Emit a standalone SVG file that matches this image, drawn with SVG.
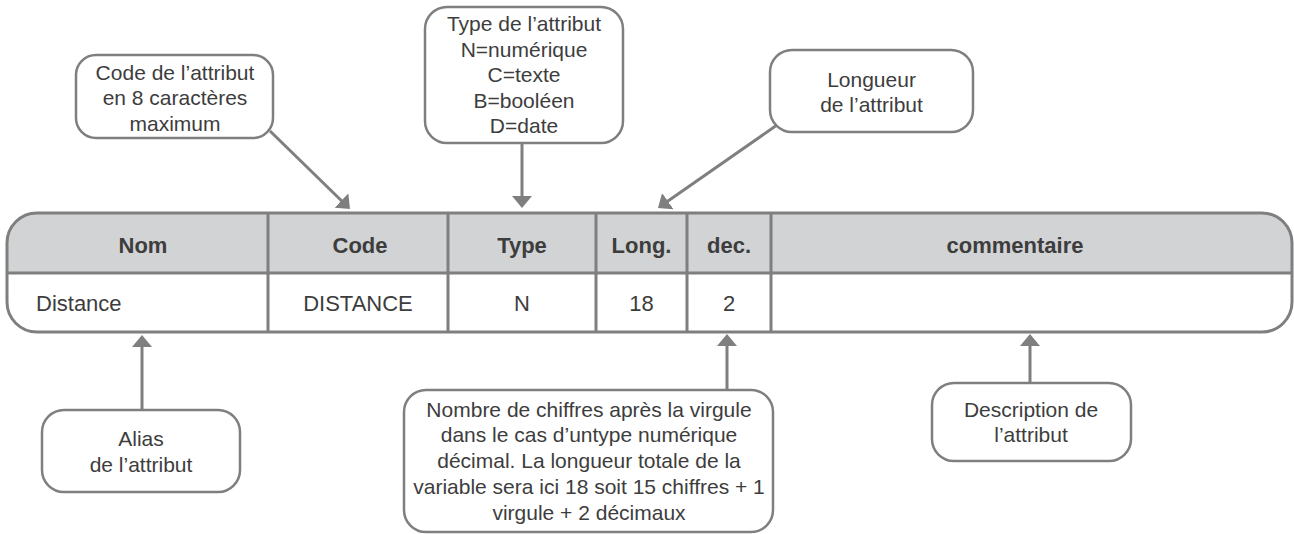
<svg xmlns="http://www.w3.org/2000/svg" width="1294" height="534" viewBox="0 0 1294 534">
<defs>
<style>
.box{fill:#fff;stroke:#7f7f7f;stroke-width:2.5}
.ct{font-family:"Liberation Sans",Arial,sans-serif;font-size:21px;fill:#3d3d3d;text-anchor:middle}
.th{font-family:"Liberation Sans",Arial,sans-serif;font-size:22px;font-weight:bold;fill:#3d3d3d;text-anchor:middle}
.td{font-family:"Liberation Sans",Arial,sans-serif;font-size:22px;fill:#3d3d3d;text-anchor:middle}
.conn{stroke:#7f7f7f;stroke-width:3;fill:none;marker-end:url(#ah)}
.grid{stroke:#7f7f7f;stroke-width:3;fill:none}
</style>
<marker id="ah" viewBox="0 0 12 20" refX="2" refY="10" markerWidth="12" markerHeight="20" markerUnits="userSpaceOnUse" orient="auto">
<path d="M0,0 L12,10 L0,20 Z" fill="#7f7f7f"/>
</marker>
</defs>
<rect width="1294" height="534" fill="#fff"/>

<g id="table">
<path d="M7,273 V243 A30,30 0 0 1 37,213 H1262 A30,30 0 0 1 1292,243 V273 Z" fill="#d1d3d4"/>
<path class="grid" d="M37,213 H1262 A30,30 0 0 1 1292,243 V302 A30,30 0 0 1 1262,332 H37 A30,30 0 0 1 7,302 V243 A30,30 0 0 1 37,213 Z"/>
<path class="grid" d="M7,273 H1292 M268,213 V332 M448,213 V332 M596,213 V332 M687,213 V332 M771,213 V332"/>
<text class="th" x="143" y="253">Nom</text>
<text class="th" x="360" y="253">Code</text>
<text class="th" x="522" y="253">Type</text>
<text class="th" x="641.5" y="253">Long.</text>
<text class="th" x="729" y="253">dec.</text>
<text class="th" x="1015" y="253">commentaire</text>
<text class="td" x="36" y="311" style="text-anchor:start">Distance</text>
<text class="td" x="358" y="311">DISTANCE</text>
<text class="td" x="522" y="311">N</text>
<text class="td" x="641.5" y="311">18</text>
<text class="td" x="729" y="311">2</text>
</g>

<g id="node-code">
<rect class="box" x="76" y="55" width="197" height="83" rx="20"/>
<text class="ct" x="175" y="80">Code de l’attribut</text>
<text class="ct" x="175" y="105">en 8 caractères</text>
<text class="ct" x="175" y="131">maximum</text>
</g>

<g id="node-type">
<rect class="box" x="425" y="7" width="198" height="136" rx="22"/>
<text class="ct" x="524" y="31">Type de l’attribut</text>
<text class="ct" x="524" y="57">N=numérique</text>
<text class="ct" x="524" y="82">C=texte</text>
<text class="ct" x="524" y="108">B=booléen</text>
<text class="ct" x="524" y="133">D=date</text>
</g>

<g id="node-longueur">
<rect class="box" x="770" y="50" width="203" height="82" rx="22"/>
<text class="ct" x="871.5" y="87">Longueur</text>
<text class="ct" x="871.5" y="112">de l’attribut</text>
</g>

<g id="node-alias">
<rect class="box" x="42" y="410" width="198" height="82" rx="22"/>
<text class="ct" x="141" y="446">Alias</text>
<text class="ct" x="141" y="472">de l’attribut</text>
</g>

<g id="node-nombre">
<rect class="box" x="404" y="390" width="369" height="142" rx="22"/>
<text class="ct" x="589" y="417">Nombre de chiffres après la virgule</text>
<text class="ct" x="589" y="442">dans le cas d’untype numérique</text>
<text class="ct" x="589" y="468">décimal. La longueur totale de la</text>
<text class="ct" x="589" y="494">variable sera ici 18 soit 15 chiffres + 1</text>
<text class="ct" x="589" y="520">virgule + 2 décimaux</text>
</g>

<g id="node-description">
<rect class="box" x="932" y="383" width="199" height="78" rx="22"/>
<text class="ct" x="1031" y="417">Description de</text>
<text class="ct" x="1031" y="442">l’attribut</text>
</g>

<g id="connectors">
<line class="conn" x1="270" y1="131" x2="342.8" y2="202"/>
<line class="conn" x1="522" y1="143" x2="522" y2="198"/>
<line class="conn" x1="777" y1="125" x2="666.2" y2="202.3"/>
<line class="conn" x1="142" y1="410" x2="142" y2="345"/>
<line class="conn" x1="727" y1="390" x2="727" y2="344"/>
<line class="conn" x1="1030" y1="383" x2="1030" y2="344"/>
</g>
</svg>
